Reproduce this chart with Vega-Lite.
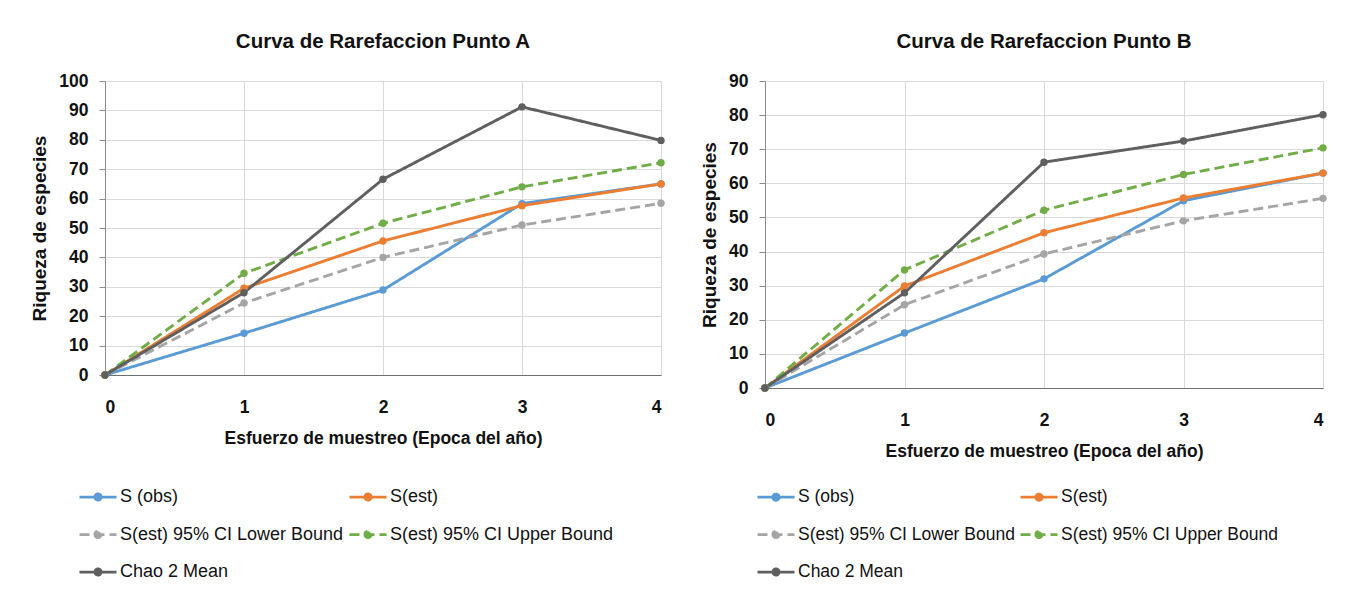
{
  "$schema": "https://vega.github.io/schema/vega-lite/v6.json",
  "background": "white",
  "padding": {"left": 30, "top": 31, "right": 5, "bottom": 5},
  "config": {
    "font": "Liberation Sans",
    "view": {"stroke": null},
    "concat": {"spacing": 33},
    "title": {"fontSize": 20.5, "fontWeight": "bold", "color": "#111111", "anchor": "middle"},
    "axis": {
      "labelFont": "Liberation Sans", "labelFontSize": 17.5, "labelFontWeight": "bold", "labelColor": "#111111",
      "titleFont": "Liberation Sans", "titleFontSize": 17.5, "titleFontWeight": "bold", "titleColor": "#111111",
      "gridColor": "#d9d9d9", "gridWidth": 1
    },
    "axisX": {"ticks": false, "labelPadding": 23, "titlePadding": 14, "domainColor": "#6f6f6f", "domainWidth": 1.2},
    "axisY": {"tickSize": 6, "tickColor": "#8c8c8c", "domainColor": "#8c8c8c", "labelPadding": 11, "titlePadding": 9, "titleFontSize": 19},
    "legend": {
      "orient": "none", "direction": "horizontal", "columns": 2, "columnPadding": 0, "rowPadding": 8.5,
      "labelFont": "Liberation Sans", "labelFontSize": 18, "labelColor": "#111111", "labelLimit": 400, "labelOffset": 2,
      "symbolType": "M-1,0L1,0M-0.17,0A0.17,0.17,0,1,0,0.17,0A0.17,0.17,0,1,0,-0.17,0Z",
      "symbolSize": 1369, "symbolStrokeWidth": 2.75, "title": null
    }
  },
  "datasets": {
    "A": [
      {"series": "S (obs)", "x": 0, "y": 0}, {"series": "S (obs)", "x": 1, "y": 14.2}, {"series": "S (obs)", "x": 2, "y": 28.9}, {"series": "S (obs)", "x": 3, "y": 58.3}, {"series": "S (obs)", "x": 4, "y": 65},
      {"series": "S(est)", "x": 0, "y": 0}, {"series": "S(est)", "x": 1, "y": 29.5}, {"series": "S(est)", "x": 2, "y": 45.6}, {"series": "S(est)", "x": 3, "y": 57.6}, {"series": "S(est)", "x": 4, "y": 65},
      {"series": "S(est) 95% CI Lower Bound", "x": 0, "y": 0}, {"series": "S(est) 95% CI Lower Bound", "x": 1, "y": 24.5}, {"series": "S(est) 95% CI Lower Bound", "x": 2, "y": 40}, {"series": "S(est) 95% CI Lower Bound", "x": 3, "y": 51}, {"series": "S(est) 95% CI Lower Bound", "x": 4, "y": 58.4},
      {"series": "S(est) 95% CI Upper Bound", "x": 0, "y": 0}, {"series": "S(est) 95% CI Upper Bound", "x": 1, "y": 34.6}, {"series": "S(est) 95% CI Upper Bound", "x": 2, "y": 51.6}, {"series": "S(est) 95% CI Upper Bound", "x": 3, "y": 64}, {"series": "S(est) 95% CI Upper Bound", "x": 4, "y": 72.2},
      {"series": "Chao 2 Mean", "x": 0, "y": 0}, {"series": "Chao 2 Mean", "x": 1, "y": 28}, {"series": "Chao 2 Mean", "x": 2, "y": 66.6}, {"series": "Chao 2 Mean", "x": 3, "y": 91.2}, {"series": "Chao 2 Mean", "x": 4, "y": 79.8}
    ],
    "B": [
      {"series": "S (obs)", "x": 0, "y": 0}, {"series": "S (obs)", "x": 1, "y": 16.1}, {"series": "S (obs)", "x": 2, "y": 32}, {"series": "S (obs)", "x": 3, "y": 54.9}, {"series": "S (obs)", "x": 4, "y": 63},
      {"series": "S(est)", "x": 0, "y": 0}, {"series": "S(est)", "x": 1, "y": 29.9}, {"series": "S(est)", "x": 2, "y": 45.5}, {"series": "S(est)", "x": 3, "y": 55.7}, {"series": "S(est)", "x": 4, "y": 63},
      {"series": "S(est) 95% CI Lower Bound", "x": 0, "y": 0}, {"series": "S(est) 95% CI Lower Bound", "x": 1, "y": 24.4}, {"series": "S(est) 95% CI Lower Bound", "x": 2, "y": 39.3}, {"series": "S(est) 95% CI Lower Bound", "x": 3, "y": 49}, {"series": "S(est) 95% CI Lower Bound", "x": 4, "y": 55.6},
      {"series": "S(est) 95% CI Upper Bound", "x": 0, "y": 0}, {"series": "S(est) 95% CI Upper Bound", "x": 1, "y": 34.6}, {"series": "S(est) 95% CI Upper Bound", "x": 2, "y": 52.1}, {"series": "S(est) 95% CI Upper Bound", "x": 3, "y": 62.6}, {"series": "S(est) 95% CI Upper Bound", "x": 4, "y": 70.4},
      {"series": "Chao 2 Mean", "x": 0, "y": 0}, {"series": "Chao 2 Mean", "x": 1, "y": 27.9}, {"series": "Chao 2 Mean", "x": 2, "y": 66.2}, {"series": "Chao 2 Mean", "x": 3, "y": 72.4}, {"series": "Chao 2 Mean", "x": 4, "y": 80.1}
    ]
  },
  "hconcat": [
    {
      "width": 556, "height": 294,
      "title": {"text": "Curva de Rarefaccion Punto A", "offset": 20},
      "data": {"name": "A"},
      "encoding": {
        "x": {"field": "x", "type": "quantitative", "scale": {"domain": [0, 4], "nice": false}, "axis": {"values": [0, 1, 2, 3, 4], "format": "d", "title": "Esfuerzo de muestreo (Epoca del año)"}},
        "y": {"field": "y", "type": "quantitative", "scale": {"domain": [0, 100], "nice": false}, "axis": {"values": [0, 10, 20, 30, 40, 50, 60, 70, 80, 90, 100], "title": "Riqueza de especies"}}
      },
      "layer": [
        {
          "mark": {"type": "line", "strokeWidth": 2.9},
          "encoding": {
            "stroke": {"field": "series", "type": "nominal", "scale": {"domain": ["S (obs)", "S(est)", "S(est) 95% CI Lower Bound", "S(est) 95% CI Upper Bound", "Chao 2 Mean"], "range": ["#5b9bd5", "#ed7d31", "#a5a5a5", "#70ad47", "#5f5f5f"]}, "legend": {"legendX": -27, "legendY": 396}},
            "strokeDash": {"field": "series", "type": "nominal", "scale": {"domain": ["S (obs)", "S(est)", "S(est) 95% CI Lower Bound", "S(est) 95% CI Upper Bound", "Chao 2 Mean"], "range": [[1, 0], [1, 0], [10, 5], [10, 5], [1, 0]]}, "legend": {"legendX": -27, "legendY": 396}}
          }
        },
        {
          "mark": {"type": "point", "filled": true, "size": 55, "opacity": 1},
          "encoding": {
            "fill": {"field": "series", "type": "nominal", "scale": {"domain": ["S (obs)", "S(est)", "S(est) 95% CI Lower Bound", "S(est) 95% CI Upper Bound", "Chao 2 Mean"], "range": ["#5b9bd5", "#ed7d31", "#a5a5a5", "#70ad47", "#5f5f5f"]}, "legend": {"legendX": -27, "legendY": 396}}
          }
        }
      ]
    },
    {
      "width": 558, "height": 307,
      "title": {"text": "Curva de Rarefaccion Punto B", "offset": 20},
      "data": {"name": "B"},
      "encoding": {
        "x": {"field": "x", "type": "quantitative", "scale": {"domain": [0, 4], "nice": false}, "axis": {"values": [0, 1, 2, 3, 4], "format": "d", "title": "Esfuerzo de muestreo (Epoca del año)"}},
        "y": {"field": "y", "type": "quantitative", "scale": {"domain": [0, 90], "nice": false}, "axis": {"values": [0, 10, 20, 30, 40, 50, 60, 70, 80, 90], "title": "Riqueza de especies"}}
      },
      "layer": [
        {
          "mark": {"type": "line", "strokeWidth": 2.9},
          "encoding": {
            "stroke": {"field": "series", "type": "nominal", "scale": {"domain": ["S (obs)", "S(est)", "S(est) 95% CI Lower Bound", "S(est) 95% CI Upper Bound", "Chao 2 Mean"], "range": ["#5b9bd5", "#ed7d31", "#a5a5a5", "#70ad47", "#5f5f5f"]}, "legend": {"legendX": -9, "legendY": 396, "labelFontSize": 17.5}},
            "strokeDash": {"field": "series", "type": "nominal", "scale": {"domain": ["S (obs)", "S(est)", "S(est) 95% CI Lower Bound", "S(est) 95% CI Upper Bound", "Chao 2 Mean"], "range": [[1, 0], [1, 0], [10, 5], [10, 5], [1, 0]]}, "legend": {"legendX": -9, "legendY": 396, "labelFontSize": 17.5}}
          }
        },
        {
          "mark": {"type": "point", "filled": true, "size": 55, "opacity": 1},
          "encoding": {
            "fill": {"field": "series", "type": "nominal", "scale": {"domain": ["S (obs)", "S(est)", "S(est) 95% CI Lower Bound", "S(est) 95% CI Upper Bound", "Chao 2 Mean"], "range": ["#5b9bd5", "#ed7d31", "#a5a5a5", "#70ad47", "#5f5f5f"]}, "legend": {"legendX": -9, "legendY": 396, "labelFontSize": 17.5}}
          }
        }
      ]
    }
  ],
  "resolve": {
    "scale": {"x": "independent", "y": "independent", "stroke": "independent", "fill": "independent", "strokeDash": "independent"},
    "legend": {"stroke": "independent", "fill": "independent", "strokeDash": "independent"}
  }
}
